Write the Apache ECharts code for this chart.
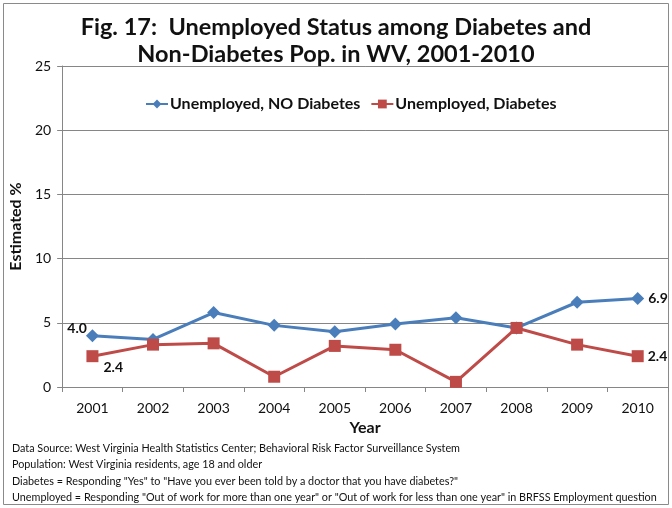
<!DOCTYPE html>
<html>
<head>
<meta charset="utf-8">
<script src="https://cdn.jsdelivr.net/npm/echarts@6/dist/echarts.min.js"></script>
<style>
  html, body { margin: 0; padding: 0; background: #fff; }
  #chart { width: 672px; height: 508px; }
</style>
</head>
<body>
<div id="chart"></div>
<script>
// Survey years and estimated unemployment percentages
const years = ['2001', '2002', '2003', '2004', '2005', '2006', '2007', '2008', '2009', '2010'];
const noDiabetes = [4.0, 3.7, 5.8, 4.8, 4.3, 4.9, 5.4, 4.6, 6.6, 6.9];
const withDiabetes = [2.4, 3.3, 3.4, 0.8, 3.2, 2.9, 0.4, 4.6, 3.3, 2.4];
const yTicks = { min: 0, max: 25, step: 5 };

const footnotes = [
  'Data Source: West Virginia Health Statistics Center; Behavioral Risk Factor Surveillance System',
  'Population: West Virginia residents, age 18 and older',
  'Diabetes = Responding "Yes" to "Have you ever been told by a doctor that you have diabetes?"',
  'Unemployed = Responding "Out of work for more than one year" or "Out of work for less than one year" in BRFSS Employment question'
];

const FONT = 'Lato, "Open Sans", sans-serif';
const BLUE = '#4a7ebb';
const RED = '#be4b48';

const labelText = {
  fontFamily: FONT, fontWeight: 'bold', fontSize: 14, color: '#111',
  formatter: p => p.value.toFixed(1)
};

// Only the first and last points carry a value label
function withEndLabels(values, firstLabel) {
  return values.map((v, i) => {
    if (i === 0) {
      return { value: v, label: Object.assign({ show: true }, labelText, firstLabel) };
    }
    if (i === values.length - 1) {
      return { value: v, label: Object.assign({ show: true, position: 'right', distance: 4 }, labelText) };
    }
    return v;
  });
}

const chart = echarts.init(document.getElementById('chart'), null, { renderer: 'canvas' });

chart.setOption({
  animation: false,
  backgroundColor: '#fff',
  title: {
    text: 'Fig. 17:  Unemployed Status among Diabetes and\nNon-Diabetes Pop. in WV, 2001-2010',
    left: 'center',
    top: 9,
    textStyle: { fontFamily: FONT, fontWeight: 'bold', fontSize: 23.5, lineHeight: 27, color: '#111' }
  },
  legend: {
    top: 91,
    left: 140,
    itemWidth: 22,
    itemHeight: 11,
    itemGap: 10,
    textStyle: { fontFamily: FONT, fontWeight: 'bold', fontSize: 16, color: '#111', padding: [0, 0, 0, -3] },
    data: ['Unemployed, NO Diabetes', 'Unemployed, Diabetes']
  },
  grid: { left: 62, right: 4, top: 66, bottom: 121 },
  xAxis: {
    type: 'category',
    data: years,
    boundaryGap: true,
    name: 'Year',
    nameLocation: 'middle',
    nameGap: 33,
    nameTextStyle: { fontFamily: FONT, fontWeight: 'bold', fontSize: 16, color: '#111' },
    axisLine: { lineStyle: { color: '#868686', width: 1 } },
    axisTick: { show: true, interval: 0, length: 5, lineStyle: { color: '#868686' } },
    axisLabel: { fontFamily: FONT, fontSize: 14, color: '#111', margin: 14 }
  },
  yAxis: {
    type: 'value',
    min: yTicks.min,
    max: yTicks.max,
    interval: yTicks.step,
    name: 'Estimated %',
    nameLocation: 'middle',
    nameGap: 36,
    nameTextStyle: { fontFamily: FONT, fontWeight: 'bold', fontSize: 16, color: '#111' },
    axisLine: { show: true, lineStyle: { color: '#868686', width: 1 } },
    axisTick: { show: true, length: 5, lineStyle: { color: '#868686' } },
    splitLine: { lineStyle: { color: '#868686', width: 1 } },
    axisLabel: { fontFamily: FONT, fontSize: 14, color: '#111', margin: 11 }
  },
  series: [
    {
      name: 'Unemployed, NO Diabetes',
      type: 'line',
      data: withEndLabels(noDiabetes, { position: 'left', distance: 5, offset: [6, -7] }),
      symbol: 'diamond',
      symbolSize: 13,
      itemStyle: { color: BLUE },
      lineStyle: { color: BLUE, width: 3 },
      z: 3
    },
    {
      name: 'Unemployed, Diabetes',
      type: 'line',
      data: withEndLabels(withDiabetes, { position: 'right', distance: 5, offset: [0, 11] }),
      symbol: 'rect',
      symbolSize: 12,
      itemStyle: { color: RED },
      lineStyle: { color: RED, width: 3 },
      z: 4
    }
  ],
  graphic: [
    {
      type: 'rect',
      shape: { x: 3.5, y: 3.5, width: 665, height: 501 },
      style: { fill: null, stroke: '#8a8a8a', lineWidth: 1 },
      silent: true
    }
  ].concat(footnotes.map((t, i) => ({
    type: 'text',
    left: 12,
    top: 443 + i * 16.3,
    style: { text: t, font: '10.8px ' + FONT, fill: '#111' }
  })))
});
</script>
</body>
</html>
